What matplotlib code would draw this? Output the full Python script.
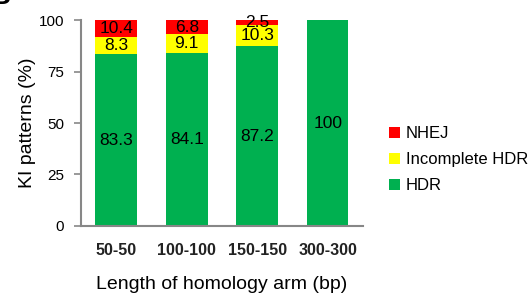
import matplotlib.pyplot as plt
import numpy as np

plt.rcParams["font.family"] = ["Liberation Sans", "DejaVu Sans"]

categories = ["50-50", "100-100", "150-150", "300-300"]
hdr = [83.3, 84.1, 87.2, 100]
incomplete_hdr = [8.3, 9.1, 10.3, 0]
nhej = [10.4, 6.8, 2.5, 0]

hdr_labels = ["83.3", "84.1", "87.2", "100"]
inc_labels = ["8.3", "9.1", "10.3", ""]
nhej_labels = ["10.4", "6.8", "2.5", ""]

green = "#00B050"
yellow = "#FFFF00"
red = "#FF0000"
axis_gray = "#878787"

fig = plt.figure(figsize=(5.31, 2.93), dpi=100)
ax = fig.add_axes([0.1525, 0.2287, 0.531, 0.703])

x = np.arange(len(categories))
w = 0.59
b1 = ax.bar(x, hdr, w, color=green, label="HDR")
b2 = ax.bar(x, incomplete_hdr, w, bottom=hdr, color=yellow, label="Incomplete HDR")
bottom3 = np.array(hdr) + np.array(incomplete_hdr)
b3 = ax.bar(x, nhej, w, bottom=bottom3, color=red, label="NHEJ")

ax.bar_label(b1, labels=hdr_labels, label_type="center", fontsize=12.5)
ax.bar_label(b2, labels=inc_labels, label_type="center", fontsize=12.5)
ax.bar_label(b3, labels=nhej_labels, label_type="center", fontsize=12.5)

ax.set_xlim(-0.5, 3.5)
ax.set_ylim(0, 100)
ax.set_yticks([0, 25, 50, 75, 100])
ax.set_xticks(x)
ax.set_xticklabels(categories, fontsize=11.5, fontweight="bold", color="#222222")
ax.tick_params(axis="x", length=0, pad=12)
ax.tick_params(axis="y", length=5, width=1.2, color=axis_gray, pad=7, labelsize=11)

for s in ["top", "right"]:
    ax.spines[s].set_visible(False)
for s in ["left", "bottom"]:
    ax.spines[s].set_color(axis_gray)
    ax.spines[s].set_linewidth(1.5)

ax.set_ylabel("KI patterns (%)", fontsize=14, labelpad=2)
ax.set_xlabel("Length of homology arm (bp)", fontsize=14, labelpad=13)

fig.legend(handles=[b3, b2, b1], loc="center left", bbox_to_anchor=(0.72, 0.455),
           frameon=False, fontsize=12, handlelength=0.65, handleheight=0.65,
           handletextpad=0.35, labelspacing=0.65, borderaxespad=0)

# cropped panel letter in the corner
fig.text(10 / 531, 1 - 4 / 293, "B", ha="right", va="baseline",
         fontsize=20, fontweight="bold")

fig.savefig("out.png", dpi=100)
